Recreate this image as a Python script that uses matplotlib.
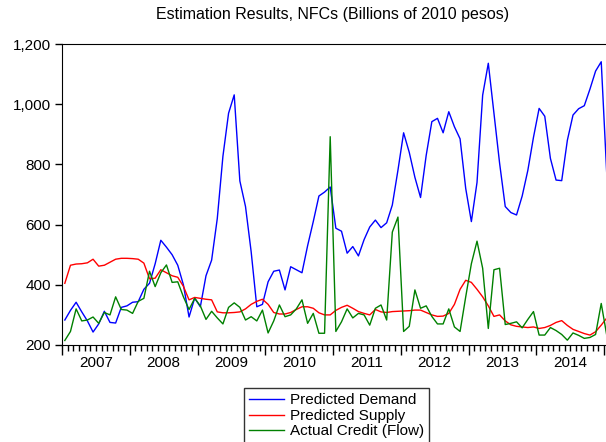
import numpy as np
import matplotlib
matplotlib.use("Agg")
import matplotlib.pyplot as plt
from matplotlib.ticker import FuncFormatter, MultipleLocator

plt.rcParams['font.family'] = ['Liberation Sans', 'DejaVu Sans']

# monthly observations, Jan 2007 .. Jan 2015
demand = [283, 315, 342, 310, 280, 243, 270, 312, 275, 273, 325, 330,
          342, 344, 385, 405, 470, 548, 525, 500, 465, 400, 293, 356,
          327, 430, 482, 620, 827, 970, 1031, 745, 660, 510, 327, 335,
          410, 445, 449, 383, 460, 450, 440, 530, 610, 695, 708, 725,
          588, 578, 505, 527, 496, 550, 592, 615, 590, 606, 665, 781,
          905, 840, 757, 690, 830, 942, 953, 905, 975, 925, 885, 720,
          610, 740, 1030, 1136, 970, 804, 660, 640, 632, 695, 780, 890,
          986, 960, 820, 748, 746, 880, 964, 985, 995, 1050, 1110, 1141,
          760]
supply = [405, 465, 469, 470, 473, 485, 462, 465, 475, 485, 488, 488,
          487, 485, 472, 420, 422, 450, 440, 430, 425, 395, 350, 358,
          355, 352, 350, 310, 307, 307, 308, 310, 320, 335, 345, 352,
          335, 308, 303, 303, 308, 318, 327, 327, 322, 307, 300, 300,
          315, 325, 332, 322, 311, 305, 300, 318, 310, 308, 311, 312,
          313, 314, 316, 316, 308, 300, 295, 296, 305, 335, 385, 415,
          408, 385, 360, 330, 295, 300, 280, 267, 262, 260, 258, 260,
          255, 258, 265, 275, 281, 265, 252, 245, 238, 233, 244, 266,
          290]
credit = [215, 245, 320, 280, 283, 293, 272, 308, 300, 360, 318, 316,
          305, 345, 355, 445, 394, 440, 466, 408, 410, 360, 318, 355,
          330, 285, 312, 290, 270, 325, 340, 325, 283, 294, 280, 316,
          240, 280, 333, 294, 300, 320, 350, 272, 305, 239, 239, 892,
          245, 277, 320, 290, 305, 300, 266, 322, 333, 283, 575, 625,
          245, 262, 383, 322, 330, 295, 270, 270, 320, 260, 245, 360,
          470, 545, 455, 255, 450, 455, 268, 272, 277, 257, 285, 311,
          233, 233, 258, 248, 235, 216, 240, 232, 222, 225, 235, 338,
          230]
years = ['2007', '2008', '2009', '2010', '2011', '2012', '2013', '2014']

x = np.arange(len(demand)) + 0.5

fig = plt.figure(figsize=(6.06, 4.42), dpi=100)
# axes run a bit past the right edge, like the cropped original
ax = fig.add_axes([62 / 606, 1 - 345 / 442, 547.7 / 606, 301 / 442])

ax.plot(x, demand, color='#0000ff', lw=1.0, label='Predicted Demand')
ax.plot(x, supply, color='#ff0000', lw=1.0, label='Predicted Supply')
ax.plot(x, credit, color='#008000', lw=1.0, label='Actual Credit (Flow)')

ax.set_xlim(0, 97)
ax.set_ylim(200, 1200)
ax.yaxis.set_major_locator(MultipleLocator(200))
ax.yaxis.set_major_formatter(FuncFormatter(lambda v, p: f'{int(v):,}'))
ax.xaxis.set_major_locator(MultipleLocator(12))
ax.xaxis.set_minor_locator(MultipleLocator(1))
ax.set_xticklabels([])
ax.tick_params(axis='x', which='major', length=7, width=1)
ax.tick_params(axis='x', which='minor', length=4, width=1)
ax.tick_params(axis='y', length=5, width=1, labelsize=11, pad=3)
for i, yr in enumerate(years):
    ax.text(12 * i + 6, -0.06, yr, transform=ax.get_xaxis_transform(),
            ha='center', va='center', fontsize=11)

fig.text(333 / 606, 1 - 15 / 442, 'Estimation Results, NFCs (Billions of 2010 pesos)',
         ha='center', va='center', fontsize=11.5)

leg = fig.legend(loc='upper left', bbox_to_anchor=(244 / 606, 1 - 388 / 442),
                 fontsize=11, frameon=True, fancybox=False, edgecolor='black',
                 borderpad=0.35, handlelength=2.3, handletextpad=0.35,
                 labelspacing=0.1, borderaxespad=0)
leg.get_frame().set_linewidth(1.0)

fig.savefig('out.png', dpi=100)
